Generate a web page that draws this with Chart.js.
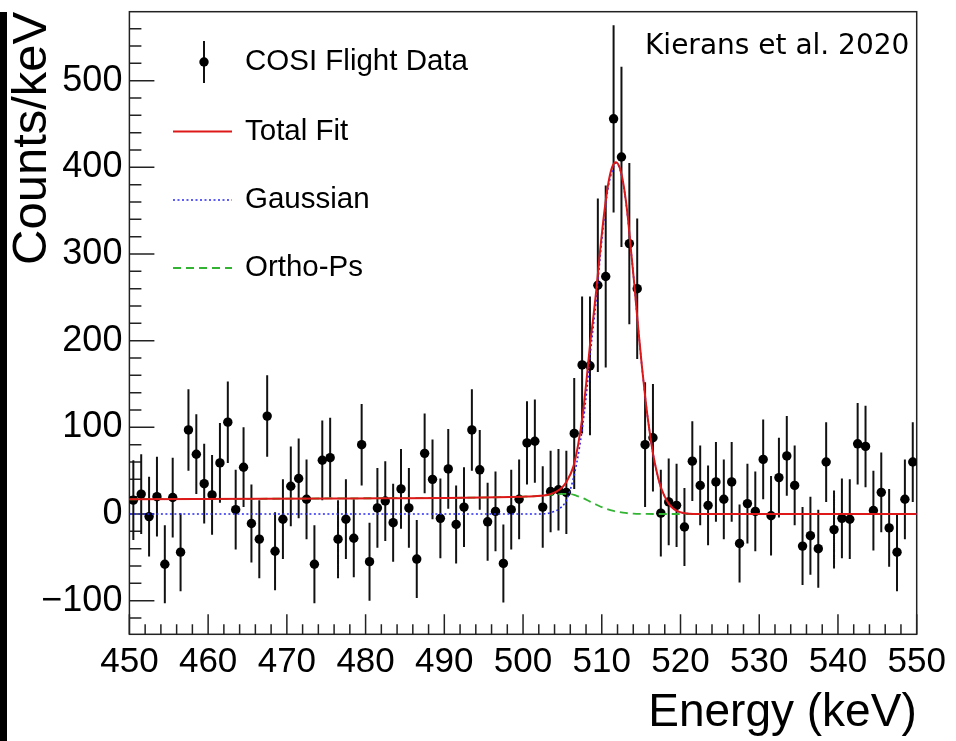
<!DOCTYPE html>
<html>
<head>
<meta charset="utf-8">
<script src="https://cdn.jsdelivr.net/npm/chart.js@4.4.1/dist/chart.umd.min.js"></script>
<style>
  html, body { margin: 0; padding: 0; background: #fff; }
</style>
</head>
<body>
<canvas id="spectrum" width="956" height="741"></canvas>
<script>
/*
 * COSI 511 keV line: flight data with fit components
 */
// bin centres (keV)
const energies = [
  450.5, 451.5, 452.5, 453.5, 454.5, 455.5, 456.5, 457.5, 458.5, 459.5,
  460.5, 461.5, 462.5, 463.5, 464.5, 465.5, 466.5, 467.5, 468.5, 469.5,
  470.5, 471.5, 472.5, 473.5, 474.5, 475.5, 476.5, 477.5, 478.5, 479.5,
  480.5, 481.5, 482.5, 483.5, 484.5, 485.5, 486.5, 487.5, 488.5, 489.5,
  490.5, 491.5, 492.5, 493.5, 494.5, 495.5, 496.5, 497.5, 498.5, 499.5,
  500.5, 501.5, 502.5, 503.5, 504.5, 505.5, 506.5, 507.5, 508.5, 509.5,
  510.5, 511.5, 512.5, 513.5, 514.5, 515.5, 516.5, 517.5, 518.5, 519.5,
  520.5, 521.5, 522.5, 523.5, 524.5, 525.5, 526.5, 527.5, 528.5, 529.5,
  530.5, 531.5, 532.5, 533.5, 534.5, 535.5, 536.5, 537.5, 538.5, 539.5,
  540.5, 541.5, 542.5, 543.5, 544.5, 545.5, 546.5, 547.5, 548.5, 549.5
];
// counts/keV
const counts = [
  16, 23, -3, 20, -58, 19, -44, 97, 69, 35,
  22, 59, 106, 5, 54, -11, -29, 113, -43, -6,
  32, 41, 17, -58, 62, 65, -29, -6, -28, 80,
  -55, 7, 15, -10, 29, 7, -52, 70, 40, -5,
  52, -12, 8, 97, 51, -9, 3, -57, 5, 17,
  82, 84, 8, 26, 28, 25, 93, 172, 171, 264,
  274, 456, 412, 312, 260, 80, 88, 1, 14, 10,
  -15, 61, 33, 10, 37, 17, 37, -34, 12, 3,
  63, -2, 42, 67, 33, -37, -25, -40, 60, -18,
  -5, -6, 81, 78, 4, 25, -16, -44, 17, 60
];
// half length of each error bar
const countErrors = [
  46, 46, 46, 46, 45, 46, 45, 47, 46, 46,
  46, 46, 47, 46, 46, 45, 45, 47, 45, 46,
  46, 46, 46, 45, 46, 46, 45, 46, 45, 47,
  45, 46, 46, 45, 46, 46, 45, 46, 46, 46,
  46, 45, 46, 47, 46, 45, 46, 45, 46, 46,
  48, 48, 47, 47, 47, 48, 64, 79, 80, 100,
  105, 108, 104, 93, 81, 72, 62, 50, 50, 48,
  45, 46, 46, 46, 46, 46, 46, 45, 46, 46,
  46, 46, 46, 46, 46, 45, 45, 45, 46, 45,
  46, 46, 47, 47, 46, 46, 45, 45, 46, 46
];

// fit curves
const totalFitE = [450, 476, 500, 502.2, 503.5, 504.7, 505.5, 506.4, 507.0, 507.6, 508.1, 508.5, 508.9, 509.3,
  509.8, 510.3, 510.8, 511.3, 511.8, 512.3, 512.8, 513.3, 513.7, 514.1, 514.6, 515.1, 515.6, 516.0, 516.5,
  517.0, 517.5, 518.0, 518.5, 519.0, 519.5, 520.2, 521.2, 522, 550];
const totalFitV = [17, 18, 20, 21, 23, 28.5, 37, 55, 80, 116, 158, 195, 225, 258,
  305, 347, 380, 400, 406, 399, 378, 343, 305, 268, 217, 170, 128, 100, 70,
  48, 31, 20, 12, 7, 4, 1.5, 0.3, 0, 0];

const gaussE = [450, 502, 503.5, 504.7, 505.4, 506.0, 506.8, 507.5, 508.1, 508.6, 509.3, 509.8, 510.3,
  510.8, 511.4, 511.8, 512.3, 512.8, 513.3, 513.7, 514.1, 514.6, 515.1, 515.6, 516.0, 516.5, 517.0,
  517.5, 518.0, 518.5, 519.0, 519.5, 520.2, 521.2, 522, 550];
const gaussV = [0, 0, 1.5, 6.6, 14, 28, 58, 97, 143, 190, 248, 297, 341,
  376, 398, 405, 398, 377, 342, 305, 268, 217, 170, 128, 100, 70, 48,
  31, 20, 12, 7, 4, 1.5, 0.3, 0, 0];

const orthoE = [450, 476, 500, 502.2, 504, 505.2, 506.0, 506.8, 507.7, 508.5, 509.4, 510.4, 511.5, 512.7, 514, 515.5, 517.4, 550];
const orthoV = [17, 18, 20, 21, 22.5, 23.3, 23.1, 21, 18.1, 14.3, 10.4, 6.5, 3.5, 1.5, 0.4, 0.1, 0, 0];

const xTicks = [450, 460, 470, 480, 490, 500, 510, 520, 530, 540, 550];
const yTicks = [-100, 0, 100, 200, 300, 400, 500];
const legendLabels = ['COSI Flight Data', 'Total Fit', 'Gaussian', 'Ortho-Ps'];
const citation = 'Kierans et al. 2020';

const toPoints = (xs, ys) => xs.map((x, i) => ({x: x, y: ys[i]}));

/*
 * Error bars for the data points
 */
const errorBars = {
  id: 'errorBars',
  beforeDatasetsDraw(chart) {
    const {ctx, chartArea: a, scales: {x, y}} = chart;
    ctx.save();
    ctx.beginPath();
    ctx.rect(a.left, a.top, a.right - a.left, a.bottom - a.top);
    ctx.clip();
    ctx.strokeStyle = '#111';
    ctx.lineWidth = 2;
    ctx.beginPath();
    energies.forEach((e, i) => {
      const px = x.getPixelForValue(e);
      ctx.moveTo(px, y.getPixelForValue(counts[i] - countErrors[i]));
      ctx.lineTo(px, y.getPixelForValue(counts[i] + countErrors[i]));
    });
    ctx.stroke();
    ctx.restore();
  }
};

/*
 * ROOT style frame with inward ticks
 */
const axisFrame = {
  id: 'axisFrame',
  beforeDatasetsDraw(chart) {
    const {ctx, chartArea: a, scales: {x, y}} = chart;
    ctx.save();
    ctx.strokeStyle = '#222';
    ctx.lineWidth = 1.5;
    ctx.strokeRect(a.left, a.top, a.right - a.left, a.bottom - a.top);
    ctx.beginPath();
    for (let v = 450; v <= 550; v += 2) {
      const px = x.getPixelForValue(v);
      const len = v % 10 === 0 ? 20 : 10;
      ctx.moveTo(px, a.bottom);
      ctx.lineTo(px, a.bottom - len);
    }
    for (let v = -120; v <= 560; v += 20) {
      const py = y.getPixelForValue(v);
      const len = v % 100 === 0 ? 25 : 12;
      ctx.moveTo(a.left, py);
      ctx.lineTo(a.left + len, py);
    }
    ctx.stroke();
    ctx.restore();
  }
};

/*
 * Legend, citation and the dark strip at the left border
 */
const overlay = {
  id: 'overlay',
  afterDraw(chart) {
    const ctx = chart.ctx;
    const sets = chart.data.datasets;
    ctx.save();
    ctx.fillStyle = '#000';
    ctx.fillRect(0, 12, 7, 729);

    const rows = [62, 131.5, 200, 268];
    ctx.font = '29.5px "Liberation Sans", Arial, sans-serif';
    ctx.textBaseline = 'middle';
    ctx.textAlign = 'left';
    legendLabels.forEach((label, i) => {
      ctx.fillStyle = '#000';
      ctx.fillText(label, 245, rows[i]);
    });
    // data marker
    ctx.strokeStyle = '#111';
    ctx.lineWidth = 2;
    ctx.beginPath();
    ctx.moveTo(204, rows[0] - 21);
    ctx.lineTo(204, rows[0] + 21);
    ctx.stroke();
    ctx.beginPath();
    ctx.arc(204, rows[0], 4.7, 0, Math.PI * 2);
    ctx.fill();
    // line samples
    [0, 1, 2].forEach(j => {
      const ds = sets[j];
      ctx.strokeStyle = ds.borderColor;
      ctx.lineWidth = ds.borderWidth;
      ctx.setLineDash(ds.borderDash || []);
      ctx.beginPath();
      ctx.moveTo(173, rows[j + 1]);
      ctx.lineTo(232, rows[j + 1]);
      ctx.stroke();
    });
    ctx.setLineDash([]);

    ctx.fillStyle = '#000';
    ctx.font = '28px "DejaVu Sans", Verdana, sans-serif';
    ctx.fillText(citation, 645, 47);
    ctx.restore();
  }
};

var ctx = document.getElementById('spectrum').getContext('2d');
var chart = new Chart(ctx, {
  type: 'scatter',
  data: {
    datasets: [{
      label: legendLabels[1],
      data: toPoints(totalFitE, totalFitV),
      showLine: true,
      borderColor: 'rgb(222, 24, 24)',
      borderWidth: 2,
      pointRadius: 0,
      cubicInterpolationMode: 'monotone',
      order: 1
    }, {
      label: legendLabels[2],
      data: toPoints(gaussE, gaussV),
      showLine: true,
      borderColor: 'rgb(40, 40, 245)',
      borderWidth: 1.6,
      borderDash: [2, 2.5],
      pointRadius: 0,
      cubicInterpolationMode: 'monotone',
      order: 2
    }, {
      label: legendLabels[3],
      data: toPoints(orthoE, orthoV),
      showLine: true,
      borderColor: 'rgb(50, 180, 50)',
      borderWidth: 1.8,
      borderDash: [8, 5],
      pointRadius: 0,
      cubicInterpolationMode: 'monotone',
      order: 3
    }, {
      label: legendLabels[0],
      data: toPoints(energies, counts),
      pointRadius: 4.7,
      pointBackgroundColor: '#000',
      pointBorderWidth: 0,
      order: 4
    }]
  },
  options: {
    responsive: false,
    animation: false,
    events: [],
    layout: {
      padding: { left: 0, right: 39.3, top: 11.7, bottom: 0 }
    },
    plugins: {
      legend: { display: false },
      tooltip: { enabled: false }
    },
    scales: {
      x: {
        type: 'linear',
        min: 450,
        max: 550,
        afterBuildTicks: s => { s.ticks = xTicks.map(v => ({value: v})); },
        afterFit: s => {
          s.height = 106.7;
          s.paddingLeft = 0;
          s.paddingRight = 0;
        },
        grid: { display: false, drawTicks: false },
        border: { display: false },
        ticks: {
          padding: 7,
          color: '#000',
          maxRotation: 0,
          autoSkip: false,
          font: { family: 'Liberation Sans', size: 35 }
        },
        title: {
          display: true,
          text: 'Energy (keV)',
          align: 'end',
          color: '#000',
          padding: 0,
          font: { family: 'Liberation Sans', size: 46 }
        }
      },
      y: {
        min: -138.8,
        max: 579.6,
        afterBuildTicks: s => { s.ticks = yTicks.map(v => ({value: v})); },
        afterFit: s => {
          s.width = 129.4;
          s.paddingTop = 0;
          s.paddingBottom = 0;
        },
        grid: { display: false, drawTicks: false },
        border: { display: false },
        ticks: {
          padding: 7,
          color: '#000',
          font: { family: 'Liberation Sans', size: 36 },
          callback: v => v < 0 ? '\u2212' + Math.abs(v) : String(v)
        },
        title: {
          display: true,
          text: 'Counts/keV',
          align: 'end',
          color: '#000',
          padding: { top: 2.6, bottom: 0 },
          font: { family: 'Liberation Sans', size: 49 }
        }
      }
    }
  },
  plugins: [axisFrame, errorBars, overlay]
});
</script>
</body>
</html>
